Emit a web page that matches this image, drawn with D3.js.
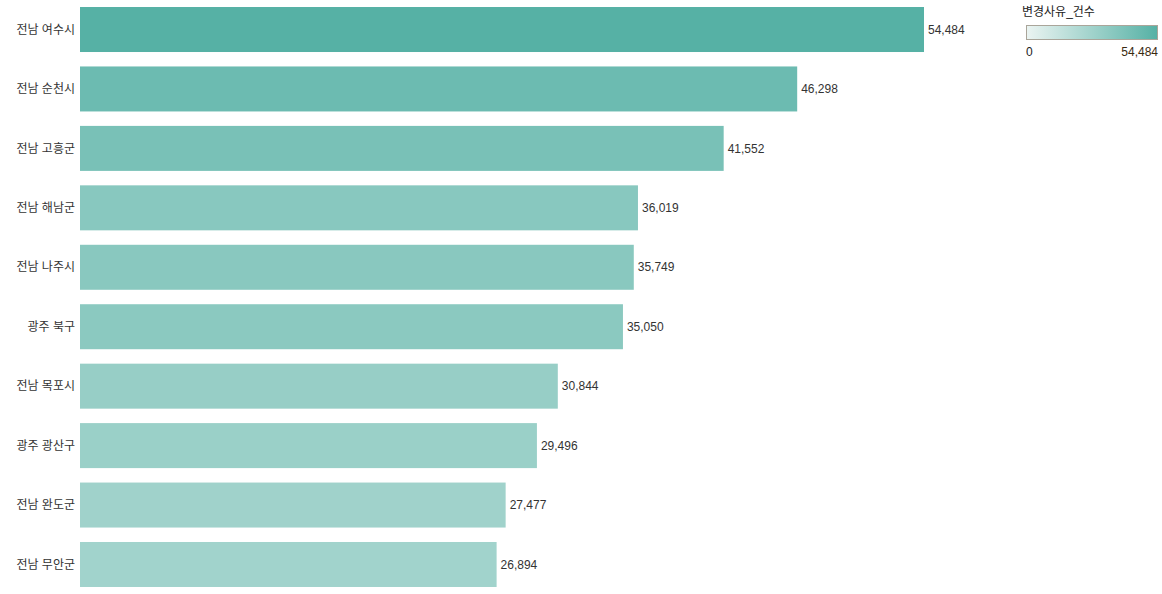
<!DOCTYPE html>
<html>
<head>
<meta charset="utf-8">
<script src="https://cdn.jsdelivr.net/npm/d3@7"></script>
<style>
  body { margin: 0; background: #fff; }
  text { font-family: "Liberation Sans", "Noto Sans CJK KR", sans-serif; }
</style>
</head>
<body>
<script>
var regions = ["전남 여수시", "전남 순천시", "전남 고흥군", "전남 해남군", "전남 나주시",
               "광주 북구", "전남 목포시", "광주 광산구", "전남 완도군", "전남 무안군"];
var counts = [54484, 46298, 41552, 36019, 35749, 35050, 30844, 29496, 27477, 26894];
var legendTitle = "변경사유_건수";

var width = 1162, height = 594;
var fmt = d3.format(",");
var maxVal = d3.max(counts);

var svg = d3.select("body").append("svg")
    .attr("width", width)
    .attr("height", height);

var x = d3.scaleLinear()
    .domain([0, maxVal])
    .range([80, 924]);

var y = d3.scaleBand()
    .domain(regions)
    .range([0, 594])
    .paddingInner(0.243)
    .paddingOuter(0.118);

var color = d3.scaleLinear()
    .domain([0, maxVal])
    .range(["#ebf4f2", "#56b1a5"]);

var rows = svg.selectAll("g.row")
    .data(regions)
    .enter().append("g")
    .attr("class", "row");

rows.append("rect")
    .attr("x", x(0))
    .attr("y", function(d) { return y(d); })
    .attr("width", function(d, i) { return x(counts[i]) - x(0); })
    .attr("height", y.bandwidth())
    .attr("fill", function(d, i) { return color(counts[i]); });

rows.append("text")
    .attr("x", 75)
    .attr("y", function(d) { return y(d) + y.bandwidth() / 2; })
    .attr("dy", "0.35em")
    .attr("text-anchor", "end")
    .attr("font-size", "12px")
    .attr("fill", "#333")
    .text(function(d) { return d; });

rows.append("text")
    .attr("x", function(d, i) { return x(counts[i]) + 4; })
    .attr("y", function(d) { return y(d) + y.bandwidth() / 2; })
    .attr("dy", "0.35em")
    .attr("font-size", "12px")
    .attr("fill", "#333")
    .text(function(d, i) { return fmt(counts[i]); });

// legend
var defs = svg.append("defs");
var grad = defs.append("linearGradient").attr("id", "lg");
grad.append("stop").attr("offset", "0%").attr("stop-color", color(0));
grad.append("stop").attr("offset", "100%").attr("stop-color", color(maxVal));

var legend = svg.append("g");
legend.append("text")
    .attr("x", 1022)
    .attr("y", 16)
    .attr("font-size", "12px")
    .attr("fill", "#222")
    .text(legendTitle);

legend.append("rect")
    .attr("x", 1026.5)
    .attr("y", 25.5)
    .attr("width", 131)
    .attr("height", 14)
    .attr("fill", "url(#lg)")
    .attr("stroke", "#aaa59a")
    .attr("stroke-width", 1);

legend.append("text")
    .attr("x", 1026)
    .attr("y", 56)
    .attr("font-size", "12px")
    .attr("fill", "#222")
    .text(fmt(0));

legend.append("text")
    .attr("x", 1158)
    .attr("y", 56)
    .attr("text-anchor", "end")
    .attr("font-size", "12px")
    .attr("fill", "#3a2a10")
    .text(fmt(maxVal));
</script>
</body>
</html>
